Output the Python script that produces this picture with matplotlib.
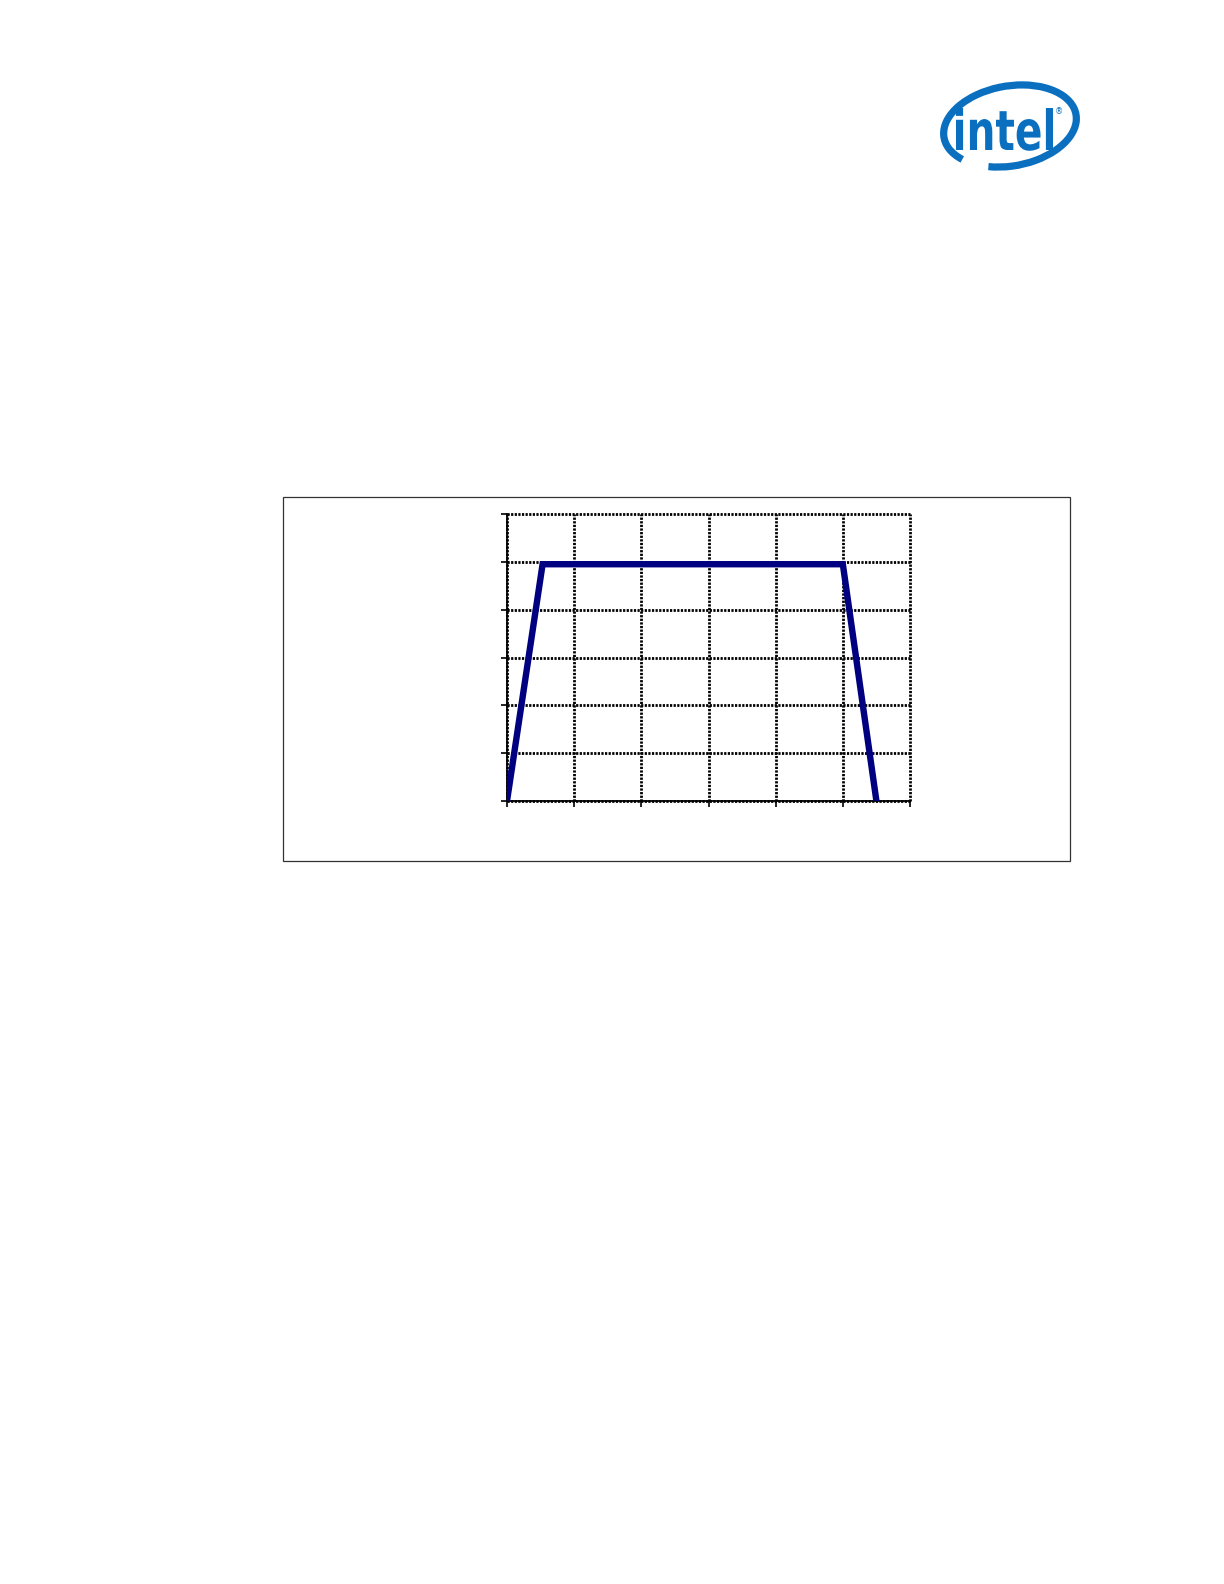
import matplotlib
matplotlib.use("Agg")
import matplotlib.pyplot as plt
from matplotlib.patches import Rectangle, Arc, PathPatch
from matplotlib.textpath import TextPath
from matplotlib.font_manager import FontProperties
from matplotlib.transforms import Affine2D

# profile points (grid units, no labels shown on the original)
x_pts = [0.0, 0.53, 5.0, 5.5]
y_pts = [0.0, 4.95, 4.95, 0.0]
x_ticks = [0, 1, 2, 3, 4, 5, 6]
y_ticks = [0, 1, 2, 3, 4, 5, 6]

W, H = 1224, 1584
fig = plt.figure(figsize=(W / 100, H / 100), dpi=100)
fig.patch.set_facecolor("white")

# outer frame around the chart
frame = Rectangle((283 / W, 1 - 861 / H), 787 / W, 364 / H,
                  transform=fig.transFigure, fill=False,
                  edgecolor="#333333", linewidth=0.9)
fig.patches.append(frame)

ax = fig.add_axes([507 / W, 1 - 801 / H, 403 / W, 287 / H])
ax.plot(x_pts, y_pts, color="#000080", linewidth=4.6,
        solid_joinstyle="miter", solid_capstyle="round", zorder=3)

ax.set_xlim(x_ticks[0], x_ticks[-1])
ax.set_ylim(y_ticks[0], y_ticks[-1])
ax.set_xticks(x_ticks)
ax.set_yticks(y_ticks)
ax.set_xticklabels([])
ax.set_yticklabels([])
ax.tick_params(direction="out", length=4, width=1.2, color="black")
ax.grid(True, color="black", linestyle=(0, (0.8, 0.5)), linewidth=2.0)
for side in ["top", "right"]:
    ax.spines[side].set_visible(False)
for side in ["left", "bottom"]:
    ax.spines[side].set_linewidth(1.3)
ax.set_axisbelow(True)
for gl in ax.get_xgridlines() + ax.get_ygridlines():
    gl.set_clip_on(False)

# intel logo (drawn in a small pixel-unit axes, y pointing down)
blue = "#0b6fbf"
logo_ax = fig.add_axes([920 / W, 1 - 190 / H, 170 / W, 120 / H])
logo_ax.set_xlim(0, 170)
logo_ax.set_ylim(120, 0)
logo_ax.axis("off")

tp = TextPath((0, 0), "intel", size=1,
              prop=FontProperties(family="DejaVu Sans", weight="bold"))
ext = tp.get_extents()
box_x0, box_x1, box_top, box_base = 36, 133, 38, 80
sx = (box_x1 - box_x0) / ext.width
sy = (box_base - box_top) / ext.y1
trans = Affine2D().translate(-ext.x0, 0).scale(sx, -sy).translate(box_x0, box_base)
logo_ax.add_patch(PathPatch(trans.transform_path(tp), color=blue, lw=0))
logo_ax.text(139, 42, "®", color=blue, fontsize=6, ha="center", va="center")
logo_ax.add_patch(Arc((90, 56), 134, 80, angle=-10, theta1=-205, theta2=128,
                      color=blue, linewidth=5.2))

fig.savefig("out.png", dpi=100)
